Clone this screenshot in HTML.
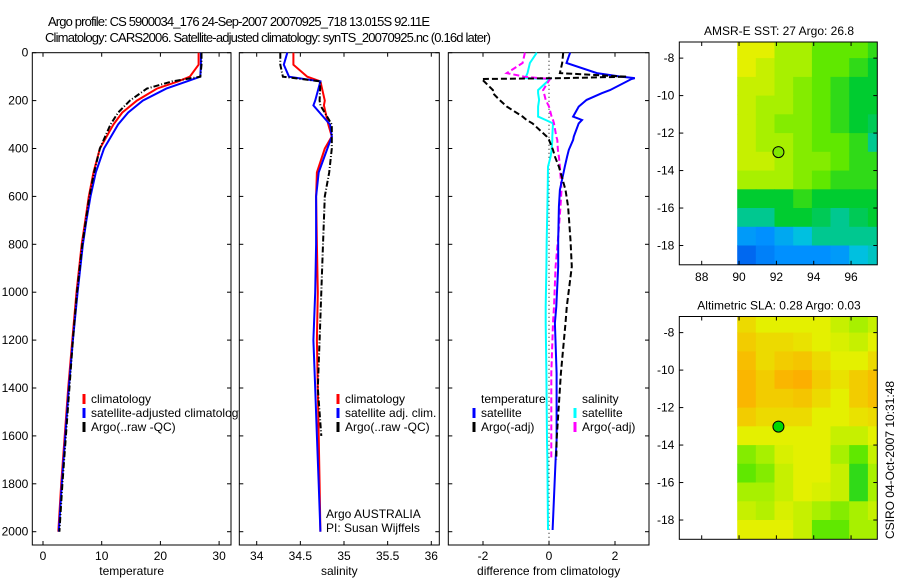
<!DOCTYPE html>
<html><head><meta charset="utf-8">
<style>
html,body{margin:0;padding:0;background:#fff;}
svg{display:block;font-family:"Liberation Sans",sans-serif;}
</style></head>
<body>
<svg id="fig" width="900" height="580" viewBox="0 0 900 580" xmlns="http://www.w3.org/2000/svg">
<text x="48" y="26" font-size="13" textLength="382">Argo profile: CS 5900034_176 24-Sep-2007 20070925_718 13.015S 92.11E</text>
<text x="45" y="42" font-size="13" textLength="446">Climatology: CARS2006. Satellite-adjusted climatology: synTS_20070925.nc (0.16d later)</text>
<g id="layer"></g>
</svg>
<script>
// ---- data ----
const depths = [0,50,100,120,150,200,250,300,400,500,600,700,800,1000,1200,1400,1600,1800,2000];
const tempClim = [26.5,26.5,25.0,23,19.4,16,13.5,12,9.7,8.6,7.8,7.2,6.6,5.7,5.0,4.3,3.7,3.1,2.6];
const tempSat  = [26.9,26.9,26.8,24.5,21,17,14.5,12.8,10.4,9,8.1,7.4,6.8,5.9,5.1,4.4,3.8,3.2,2.7];
const tempArgo = [27,27,26.8,22,17.7,14.8,12.8,11.5,9.7,8.7,7.9,7.3,6.7,5.8,5.1,4.5,3.9,3.3,2.8];

const salDepths = [0,50,100,120,200,220,300,350,400,500,600,800,1000,1200,1400,1600,1800,2000];
const salClim = [34.42,34.42,34.58,34.73,34.78,34.77,34.82,34.86,34.78,34.69,34.68,34.69,34.70,34.69,34.70,34.71,34.72,34.73];
const salSat  = [34.35,34.31,34.37,34.73,34.67,34.65,34.84,34.86,34.81,34.71,34.68,34.68,34.67,34.65,34.67,34.69,34.71,34.73];
const salArgo = [34.27,34.27,34.30,34.73,34.72,34.73,34.86,34.86,34.86,34.83,34.78,34.76,34.74,34.72,34.70,34.74,null,null];

const dDepths = [0,43,85,100,106,110,156,169,197,225,267,281,295,350,364,406,434,476,573,643,783,893,1060,1129,1338,1617,1700,1993];
const dTempSat  = [0.64,0.53,1.45,2.2,2.6,2.5,1.85,1.6,1.14,0.9,0.73,1.0,0.9,0.75,0.73,0.6,0.55,0.48,0.33,0.3,0.28,0.28,0.22,0.18,0.23,0.23,0.2,0.11];
const dTempArgo = [0.43,0.4,0.33,2.35,0.5,-2.04,-1.7,-1.7,-1.5,-1.28,-0.8,-0.68,-0.5,-0.07,0.0,0.12,0.18,0.3,0.5,0.58,0.65,0.69,0.54,0.5,0.36,0.23,0.22,null];
const dSalSat   = [-0.37,-0.58,-0.65,-0.7,-0.73,0.03,-0.33,-0.33,-0.3,-0.33,-0.33,-0.1,0.12,0.1,0.1,0.08,0.05,-0.03,-0.04,-0.05,-0.07,-0.08,-0.1,-0.1,-0.08,-0.06,-0.05,-0.03];
const dSalArgo  = [-0.73,-0.8,-1.28,-0.75,-0.3,0.03,-0.18,-0.15,-0.1,0.0,0.08,0.12,0.15,0.22,0.25,0.27,0.3,0.33,0.38,0.35,0.27,0.2,0.15,0.12,0.07,0.07,0.07,null];

const tempTicks = [0,10,20,30];
const salTicks = [34,34.5,35,35.5,36];
const salTickLabels = ["34","34.5","35","35.5","36"];
const diffTicks = [-2,0,2];
const depthTicks = [0,200,400,600,800,1000,1200,1400,1600,1800,2000];
const lonTicks = [88,90,92,94,96];
const latTicks = [-8,-10,-12,-14,-16,-18];

// map grids: rows lat -7..-19 step 1, cols lon 90..98 step 1 (palette index)
const sstGrid = [
[6,6,5,5,4,4,4,3.5],[6,5.5,5,5,4,4,3.5,3],[5.5,5.5,5,4.5,4,3.5,3,3],[5.5,5,5,4.5,4,3.5,3,3],
[5.5,5,4.5,4.5,4,3.5,3,2.8],[5.5,5,5,4.5,4,4,3.5,2.5],[5.5,5.5,5,4.5,4.5,4,3.5,3.5],[5,5,5,4.5,4,3.5,3.5,3.5],
[3,3,3,3.5,3,3,3,3],[2.5,2.5,3,3,2.8,2.5,2.8,3],[1.2,1,1.5,2,2.5,2.5,2.5,2.5],[0.5,0.8,1,1,1,1.2,2,2.2]];
const slaGrid = [
[6.3,6,6,6,6,5.5,5,5.5],[6.5,6.3,6.3,6.2,6,5.8,5.5,6],[6.7,6.3,6.5,6.6,6.3,6,6,6.3],[6.8,6.5,6.8,6.9,6.5,6.2,6.5,6.7],
[6.8,6.5,6.5,6.6,6.3,6,6.5,6.7],[6.5,6.3,6.3,6.3,6,6,6.2,6.3],[6,6,6,6,6,5.5,5.5,6],[4.5,5,5.8,6,6,5,4,5.5],
[4,4.5,5.5,6,6,5.5,3.5,5],[5,5,5.5,6,5.8,5.5,3.5,5],[5.5,5.2,5.8,5.5,5,4.5,5,5.5],[6,6,6,5.5,4,4,5,5]];
const floatLon = 92.11, floatLat = -13.015;

// ---- helpers ----
const NS="http://www.w3.org/2000/svg";
const layer=document.getElementById('layer');
function mk(tag,attrs,parent){const e=document.createElementNS(NS,tag);for(const k in attrs)e.setAttribute(k,attrs[k]);(parent||layer).appendChild(e);return e;}
const Y0=52.7, YS=0.2395, PB=545;
const yD=d=>Y0+d*YS;
const palStops=[[0,[0,64,224]],[1,[0,144,255]],[2,[0,192,224]],[2.5,[0,200,144]],[3,[0,204,48]],[4,[96,232,0]],[5,[168,240,0]],[6,[228,240,0]],[7,[255,168,0]]];
function pal(v){for(let i=1;i<palStops.length;i++){if(v<=palStops[i][0]){const a=palStops[i-1],b=palStops[i];const t=(v-a[0])/(b[0]-a[0]);const c=a[1].map((x,j)=>Math.round(x+(b[1][j]-x)*t));return `rgb(${c})`;}}return 'rgb(255,168,0)';}

function panel(name,x0,x1,xs,ticks,labels,xlabel,showY){
  const g=mk('g',{});
  
  
  const r=mk('rect',{x:x0,y:Y0,width:x1-x0,height:PB-Y0,fill:'#fff',stroke:'#000','stroke-width':1},g);
  
  
  ticks.forEach((t,i)=>{const x=xs(t);
    mk('line',{x1:x,x2:x,y1:PB,y2:PB-4,stroke:'#000'},g);mk('line',{x1:x,x2:x,y1:Y0,y2:Y0+4,stroke:'#000'},g);
    const tx=mk('text',{x:x,y:560,'font-size':12,'text-anchor':'middle'},g);tx.textContent=labels[i];
    
    });
  depthTicks.forEach(d=>{const y=yD(d);
    mk('line',{x1:x0,x2:x0+4,y1:y,y2:y,stroke:'#000'},g);mk('line',{x1:x1,x2:x1-4,y1:y,y2:y,stroke:'#000'},g);
    if(showY){const tx=mk('text',{x:x0-4,y:y+4,'font-size':12,'text-anchor':'end'},g);tx.textContent=d;
      
      }});
  const xl=mk('text',{x:(x0+x1)/2,y:575,'font-size':12,'text-anchor':'middle'},g);xl.textContent=xlabel;
  
  
  return g;
}
function line(g,ds,vals,xs,color,dash,name,w){
  let d='';let pen=false;
  vals.forEach((v,i)=>{if(v===null){pen=false;return;}d+=(pen?'L':'M')+xs(v).toFixed(1)+','+yD(ds[i]).toFixed(1);pen=true;});
  const p=mk('path',{d:d,fill:'none',stroke:color,'stroke-width':w||2,'stroke-dasharray':dash||'none'},g);
  
  
}
function legend(g,x,y,color,label,name){
  mk('line',{x1:x,x2:x,y1:y-9,y2:y+1,stroke:color,'stroke-width':3},g);
  const t=mk('text',{x:x+7,y:y,'font-size':12},g);t.textContent=label;
  
  
}

// panel 1 temperature
const xT=v=>43+v*5.87;
const g1=panel('temperature-panel',32.3,231,xT,tempTicks,tempTicks.map(String),'temperature',true);
line(g1,depths,tempClim,xT,'#f00',null,'temp-climatology-line');
line(g1,depths,tempSat,xT,'#00f',null,'temp-satellite-line');
line(g1,depths,tempArgo,xT,'#000','6 2 1 2','temp-argo-line');
legend(g1,84,403,'#f00','climatology','legend-climatology');
legend(g1,84,417,'#00f','satellite-adjusted climatology','legend-satellite-adjusted');
legend(g1,84,431,'#000','Argo(..raw -QC)','legend-argo');

// panel 2 salinity
const xS=v=>256.7+(v-34)*87.3;
const g2=panel('salinity-panel',239.3,439.3,xS,salTicks,salTickLabels,'salinity',false);
line(g2,salDepths,salClim,xS,'#f00',null,'sal-climatology-line');
line(g2,salDepths,salSat,xS,'#00f',null,'sal-satellite-line');
line(g2,salDepths,salArgo,xS,'#000','6 2 1 2','sal-argo-line');
legend(g2,338,403,'#f00','climatology','legend-sal-climatology');
legend(g2,338,417,'#00f','satellite adj. clim.','legend-sal-satellite');
legend(g2,338,431,'#000','Argo(..raw -QC)','legend-sal-argo');
[['Argo AUSTRALIA',518,'credit-argo-australia'],['PI: Susan Wijffels',532,'credit-pi']].forEach(a=>{
  const t=mk('text',{x:326,y:a[1],'font-size':12},g2);t.textContent=a[0];
  
  });

// panel 3 difference
const xD=v=>549+v*33;
const g3=panel('difference-panel',448.3,649,xD,diffTicks,diffTicks.map(String),'difference from climatology',false);
mk('line',{x1:xD(0),x2:xD(0),y1:Y0,y2:PB,stroke:'#000','stroke-dasharray':'1 3'},g3);
line(g3,dDepths,dSalSat,xD,'#0ff',null,'diff-sal-satellite-line');
line(g3,dDepths,dSalArgo,xD,'#f0f','6 3','diff-sal-argo-line');
line(g3,dDepths,dTempSat,xD,'#00f',null,'diff-temp-satellite-line');
line(g3,dDepths,dTempArgo,xD,'#000','6 3','diff-temp-argo-line');
[['temperature',481,'legend-temperature-heading'],['salinity',582,'legend-salinity-heading']].forEach(a=>{
  const t=mk('text',{x:a[1],y:403,'font-size':12},g3);t.textContent=a[0];
  
  });
legend(g3,474,417,'#00f','satellite','legend-temp-satellite');
legend(g3,474,431,'#000','Argo(-adj)','legend-temp-argo');
legend(g3,575,417,'#0ff','satellite','legend-sal-sat-diff');
legend(g3,575,431,'#f0f','Argo(-adj)','legend-sal-argo-diff');

// maps
function map(name,top,grid,title,dotColor,xLabels){
  const L=679.3,R=877.3,B=top+222.8;
  const xs=lon=>L+(lon-86.8)*18.67, ys=lat=>top+(-7.14-lat)*18.74;
  const g=mk('g',{});
  
  
  const cid=name+'-clip';
  const cp=mk('clipPath',{id:cid},g);mk('rect',{x:L,y:top,width:R-L,height:B-top},cp);
  const cells=mk('g',{'clip-path':`url(#${cid})`},g);
  grid.forEach((row,i)=>row.forEach((v,j)=>{
    const x=xs(89.9+j),y=(i===0)?top:ys(-7-i);
    const h=ys(-8-i)-y;
    const c=mk('rect',{x:x.toFixed(1),y:y.toFixed(1),width:19.2,height:(h+0.5).toFixed(1),fill:pal(v)},cells);
    
    }));
  mk('rect',{x:L,y:top,width:R-L,height:B-top,fill:'none',stroke:'#000'},g);
  lonTicks.forEach(l=>{const x=xs(l);mk('line',{x1:x,x2:x,y1:B,y2:B-4,stroke:'#000'},g);mk('line',{x1:x,x2:x,y1:top,y2:top+4,stroke:'#000'},g);
    if(xLabels){const t=mk('text',{x:x,y:B+16,'font-size':12,'text-anchor':'middle'},g);t.textContent=l;
      
      }});
  latTicks.forEach(l=>{const y=ys(l);mk('line',{x1:L,x2:L+4,y1:y,y2:y,stroke:'#000'},g);mk('line',{x1:R,x2:R-4,y1:y,y2:y,stroke:'#000'},g);
    const t=mk('text',{x:L-5,y:y+4,'font-size':12,'text-anchor':'end'},g);t.textContent=l;
    
    });
  const dot=mk('circle',{cx:xs(floatLon),cy:ys(floatLat),r:5.5,fill:dotColor,stroke:'#000','stroke-width':1},g);
  
  
  const t=mk('text',{x:779,y:top-7,'font-size':12,'text-anchor':'middle'},g);t.textContent=title;
  
  
}
map('sst-map',42,sstGrid,'AMSR-E SST: 27 Argo: 26.8','#80e800',true);
map('sla-map',316.5,slaGrid,'Altimetric SLA: 0.28 Argo: 0.03','#00d800',false);
const st=mk('text',{x:0,y:0,'font-size':12,'text-anchor':'middle',transform:'translate(894,460) rotate(-90)'});
st.textContent='CSIRO 04-Oct-2007 10:31:48';


</script>
</body></html>
